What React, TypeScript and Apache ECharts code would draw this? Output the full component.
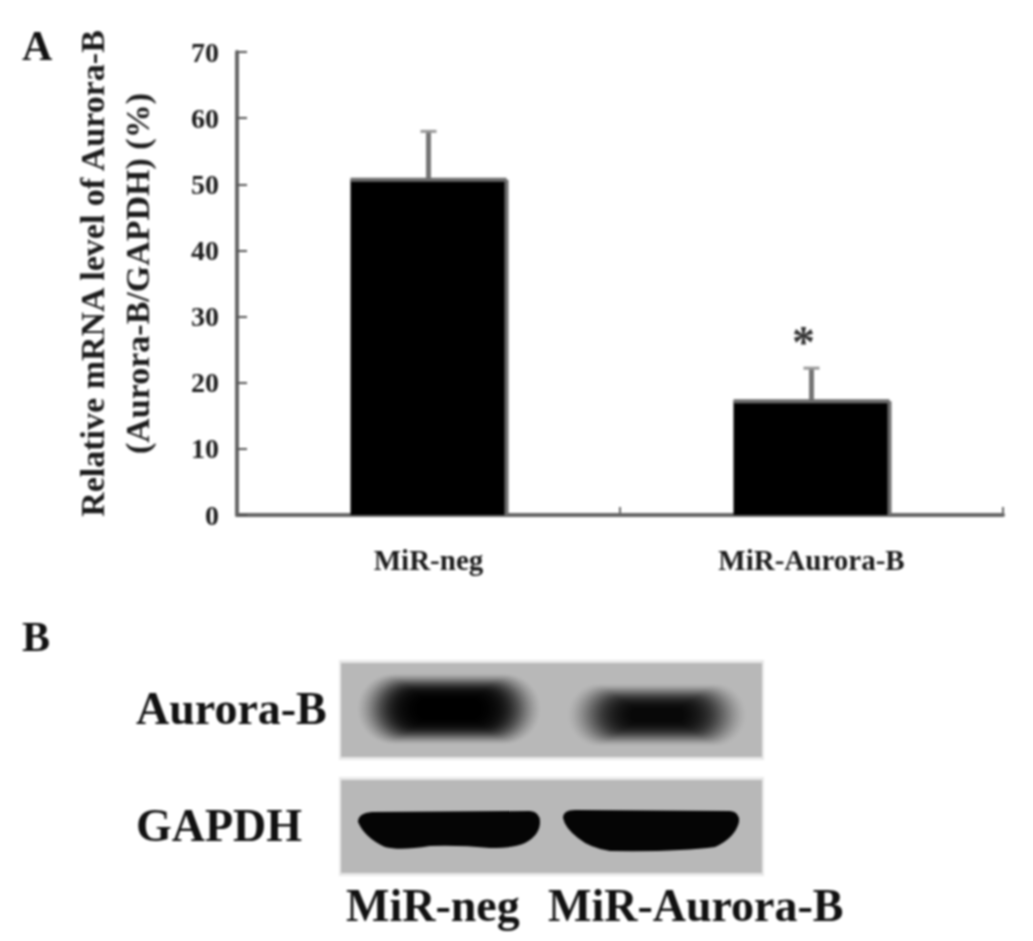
import React, { useEffect, useRef } from "react";
import * as echarts from "echarts";

const categories = ["MiR-neg", "MiR-Aurora-B"];
const means = [50.7, 17.2];
const upper = [58, 22.2];
const yTicks = { min: 0, max: 70, interval: 10 };
const yName = "Relative mRNA level of Aurora-B\n(Aurora-B/GAPDH) (%)";
const star = [[1, 25.5, "*"]];

const FONT = '"Liberation Serif", serif';
const INK = "#1c1c1c";
const BAR_WIDTH = 156;

echarts.graphic.registerShape(
  "gapdhL",
  echarts.graphic.extendPath(
    "M358 822 Q358 813 372 812 L530 811 Q540 812 540 822 Q540 835 525 843 Q515 848 490 848 Q460 845 430 846 Q400 851 385 847 Q365 838 358 822 Z",
    {}
  )
);
echarts.graphic.registerShape(
  "gapdhR",
  echarts.graphic.extendPath(
    "M563 818 Q563 810 575 810 L730 811 Q740 812 739 822 Q735 838 715 847 Q680 852 610 851 Q590 848 578 838 Q565 828 563 818 Z",
    {}
  )
);

const blot = (x: number, y: number, w: number, h: number) => [
  { type: "rect", shape: { x: x - 2, y: y - 3, width: w + 4, height: h + 6 }, style: { fill: "#e8e8e8" } },
  { type: "rect", shape: { x, y, width: w, height: h }, style: { fill: "#b8b8b8" } },
];
// soft-edged band built from stacked translucent rounded rectangles, faint outside and denser inward
const band = (x0: number, y0: number, x1: number, y1: number, layers: number, alpha: number) =>
  Array.from({ length: layers }, (_, i) => {
    const t = i / layers;
    const stepX = ((x1 - x0) / 2) * t * 0.72;
    const stepY = ((y1 - y0) / 2) * t * 0.8;
    const w = x1 - x0 - 2 * stepX;
    const h = y1 - y0 - 2 * stepY;
    return {
      type: "rect",
      shape: { x: x0 + stepX, y: y0 + stepY, width: w, height: h, r: Math.min(w, h) / 2 },
      style: { fill: "#000", opacity: alpha * (0.15 + 0.85 * Math.min(1, t * 2)) },
    };
  });
const label = (text: string, x: number, y: number, size: number) => ({
  type: "text",
  x,
  y,
  style: { text, fill: "#111", font: `bold ${size}px ${FONT}`, textAlign: "left", textVerticalAlign: "middle" },
});

export default function App() {
  const ref = useRef<HTMLDivElement>(null);
  useEffect(() => {
    document.body.style.margin = "0";
    const chart = echarts.init(ref.current!, null, { renderer: "svg" });
    chart.setOption({
      animation: false,
      backgroundColor: "#fff",
      grid: { left: 237, right: 30, top: 52, bottom: 426 },
      xAxis: {
        type: "category",
        data: categories,
        axisLine: { lineStyle: { color: "#666", width: 4 } },
        axisTick: { show: true, inside: true, length: 8, lineStyle: { color: "#666", width: 2 } },
        axisLabel: { color: INK, fontFamily: FONT, fontWeight: "bold", fontSize: 29, margin: 30 },
      },
      yAxis: {
        type: "value",
        ...yTicks,
        name: yName,
        nameLocation: "middle",
        nameGap: 77,
        nameRotate: 90,
        nameTextStyle: {
          color: INK,
          fontFamily: FONT,
          fontWeight: "bold",
          fontSize: 34,
          lineHeight: 45,
          padding: [0, 0, 0, 20],
        },
        splitLine: { show: false },
        axisLine: { show: true, lineStyle: { color: "#666", width: 4 } },
        axisTick: { show: true, inside: true, length: 10, lineStyle: { color: "#555", width: 2 } },
        axisLabel: { color: INK, fontFamily: FONT, fontWeight: "bold", fontSize: 28, margin: 18 },
      },
      series: [
        {
          type: "bar",
          data: means,
          barWidth: BAR_WIDTH,
          itemStyle: { color: "#000" },
        },
        {
          type: "custom",
          data: upper.map((u, i) => [i, means[i], u]),
          encode: { x: 0, y: 2 },
          z: 3,
          renderItem: (_: any, api: any) => {
            const b = api.coord([api.value(0), api.value(1)]);
            const t = api.coord([api.value(0), api.value(2)]);
            const o = api.coord([api.value(0), 0]);
            const st = { stroke: "#757575", lineWidth: 5, fill: "none" };
            const edge = { stroke: "#6c6c6c", lineWidth: 4, fill: "none" };
            const l = b[0] - BAR_WIDTH / 2;
            const r = b[0] + BAR_WIDTH / 2;
            return {
              type: "group",
              children: [
                { type: "line", shape: { x1: b[0], y1: b[1], x2: t[0], y2: t[1] }, style: st },
                { type: "line", shape: { x1: t[0] - 8, y1: t[1], x2: t[0] + 8, y2: t[1] }, style: { ...st, stroke: "#999", lineWidth: 3 } },
                { type: "line", shape: { x1: l, y1: b[1], x2: r, y2: b[1] }, style: edge },
                { type: "line", shape: { x1: r, y1: b[1], x2: r, y2: o[1] }, style: edge },
              ],
            };
          },
        },
        {
          type: "scatter",
          data: star,
          symbolSize: 0,
          label: {
            show: true,
            position: "inside",
            offset: [-8, -4],
            formatter: (p: any) => p.value[2],
            color: "#000",
            fontFamily: FONT,
            fontWeight: "bold",
            fontSize: 46,
          },
        },
      ],
      graphic: [
        label("A", 22, 46, 42),
        label("B", 22, 637, 42),
        ...blot(341, 663, 421, 94),
        ...blot(341, 780, 421, 93),
        ...band(358, 674, 540, 744, 30, 0.17),
        ...band(568, 684, 746, 746, 30, 0.105),
        { type: "gapdhL", x: 0, y: 0, style: { fill: "#050505" } },
        { type: "gapdhR", x: 0, y: 0, style: { fill: "#050505" } },
        label("Aurora-B", 136, 708, 46),
        label("GAPDH", 136, 825, 46),
        label("MiR-neg", 346, 905, 46),
        label("MiR-Aurora-B", 548, 905, 46),
      ],
    });
    return () => chart.dispose();
  }, []);
  return <div ref={ref} style={{ width: 1033, height: 941, filter: "blur(0.8px)" }} />;
}
